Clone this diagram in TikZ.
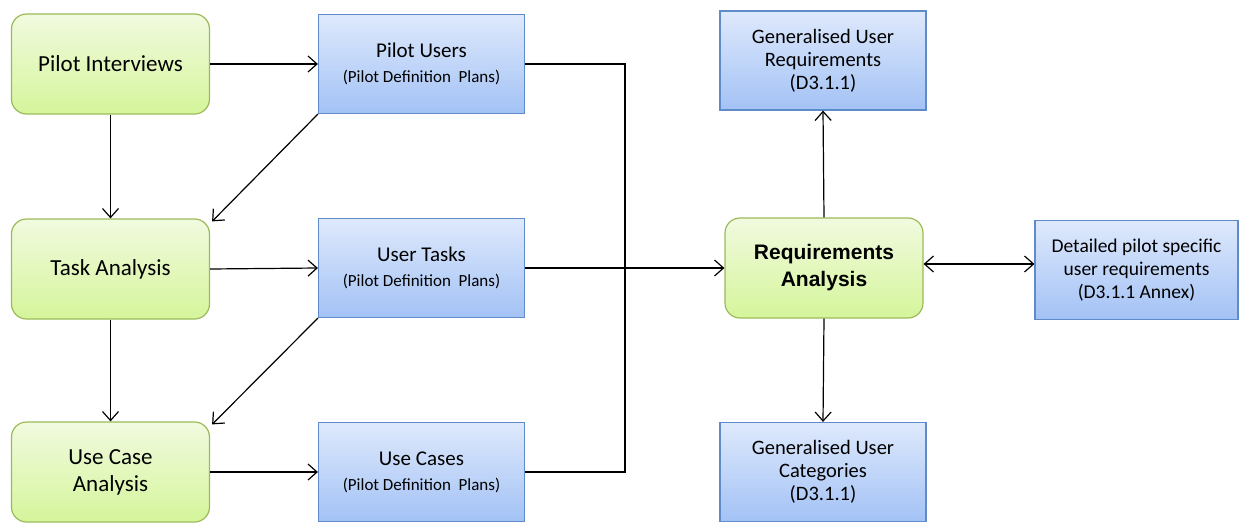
\documentclass[tikz,border=0pt]{standalone}
\usepackage{fontspec}
\setmainfont{Carlito}
\newfontfamily\arialfont{Liberation Sans}
\usetikzlibrary{arrows.meta}
\definecolor{gtop}{HTML}{F1FADF}
\definecolor{gbot}{HTML}{D5F59B}
\definecolor{gborder}{HTML}{9BBB59}
\definecolor{btop}{HTML}{DEE9FC}
\definecolor{bbot}{HTML}{A3C2F5}
\definecolor{bborder}{HTML}{5F8BC9}
\tikzset{
  greenbox/.style={draw=gborder, line width=1.2pt, rounded corners=15pt,
    top color=gtop, bottom color=gbot, minimum width=198pt, minimum height=100pt,
    align=center, inner sep=2pt, font=\fontsize{23}{27}\selectfont},
  bluebox/.style={draw=bborder, line width=1.2pt, top color=btop, bottom color=bbot,
    minimum width=206pt, minimum height=99pt, align=center, inner sep=2pt,
    font=\fontsize{20.5}{23}\selectfont},
  conn/.style={line width=1.2pt, black},
  arr/.style={conn, -{Straight Barb[length=9pt,width=16pt,line width=1.2pt]}},
  darr/.style={conn, {Straight Barb[length=9pt,width=16pt,line width=1.2pt]}-{Straight Barb[length=9pt,width=16pt,line width=1.2pt]}}
}
\newcommand{\subline}[1]{{\fontsize{17}{20}\selectfont #1}}
\begin{document}
\begin{tikzpicture}[x=1pt,y=-1pt]
\useasboundingbox (0,0) rectangle (1239,522);
% green boxes
\node[greenbox] (PI) at (110.5,64) {Pilot Interviews};
\node[greenbox] (TA) at (110.5,269) {Task Analysis};
\node[greenbox] (UCA) at (110.5,472) {Use Case\\Analysis};
\node[greenbox, font=\arialfont\fontsize{21}{27}\selectfont\bfseries] (RA) at (824,268) {Requirements\\Analysis};
% blue boxes
\node[bluebox, font=\fontsize{21}{25}\selectfont] (PU) at (421.5,64) {Pilot Users\\\subline{(Pilot Definition\ \ Plans)}};
\node[bluebox, font=\fontsize{21}{25}\selectfont] (UT) at (421.5,268) {User Tasks\\\subline{(Pilot Definition\ \ Plans)}};
\node[bluebox, font=\fontsize{21}{25}\selectfont] (UC) at (421.5,472) {Use Cases\\\subline{(Pilot Definition\ \ Plans)}};
\node[bluebox] (GUR) at (823,60.5) {Generalised User\\Requirements\\(D3.1.1)};
\node[bluebox, minimum width=203pt, font=\fontsize{19.5}{23}\selectfont] (DET) at (1136.5,270) {Detailed pilot specific\\user requirements\\(D3.1.1 Annex)};
\node[bluebox] (GUC) at (823,472) {Generalised User\\Categories\\(D3.1.1)};
% connectors left column
\draw[arr] (PI.east) -- (PU.west);
\draw[arr] (TA.east) -- (UT.west);
\draw[arr] (UCA.east) -- (UC.west);
\draw[arr] (PI.south) -- (TA.north);
\draw[arr] (TA.south) -- (UCA.north);
\draw[arr] (PU.south west) -- ([xshift=2pt,yshift=-3pt]TA.north east);
\draw[arr] (UT.south west) -- ([xshift=2pt,yshift=-3pt]UCA.north east);
% bus
\coordinate (bt) at (625,64);
\coordinate (bb) at (625,472);
\coordinate (bm) at (625,268);
\draw[conn] (PU.east) -- (bt) -- (bb) -- (UC.east);
\draw[arr] (UT.east) -- (RA.west);
\draw[conn, line width=1.8pt] (bm) -- ([xshift=-10pt]RA.west);
% right side
\draw[arr] (RA.north) -- (GUR.south);
\draw[arr] (RA.south) -- (GUC.north);
\draw[darr] (RA.east |- 0,264) -- (DET.west |- 0,264);
\end{tikzpicture}
\end{document}
